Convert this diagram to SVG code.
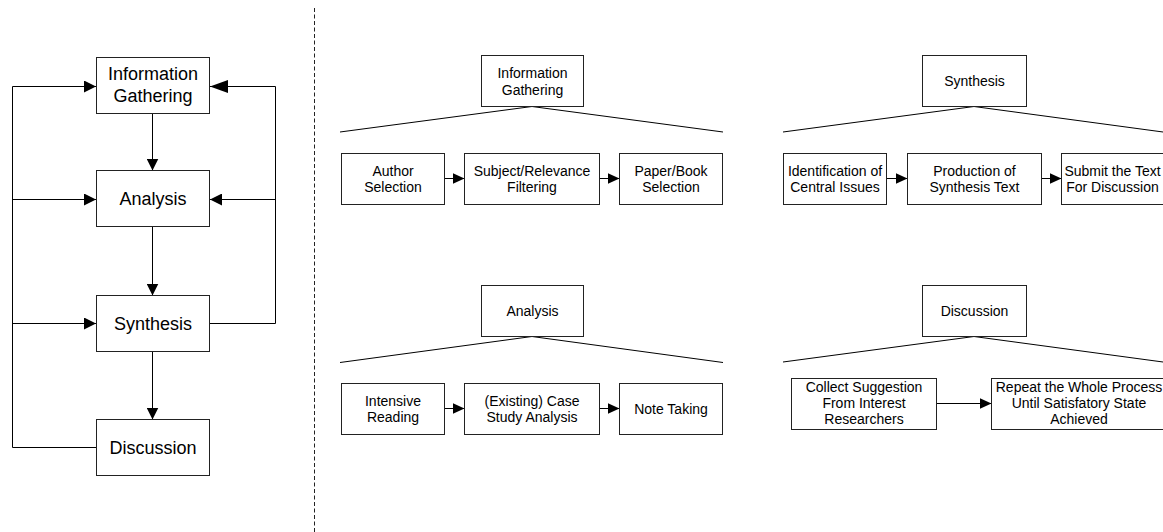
<svg xmlns="http://www.w3.org/2000/svg" width="1163" height="532" viewBox="0 0 1163 532">
<style>
.box{fill:#fff;stroke:#222;stroke-width:1}
.ln{fill:none;stroke:#000;stroke-width:1}
.big{font-family:"Liberation Sans",Arial,sans-serif;font-size:18px;fill:#000;text-anchor:middle}
.sm{font-family:"Liberation Sans",Arial,sans-serif;font-size:14px;fill:#000;text-anchor:middle}
</style>
<defs>
<marker id="arr" markerUnits="userSpaceOnUse" viewBox="0 0 12 12" refX="12" refY="6" markerWidth="12" markerHeight="12" orient="auto">
<path d="M0,0 L12,6 L0,12 z" fill="#000"/>
</marker>
<marker id="arrS" markerUnits="userSpaceOnUse" viewBox="0 0 12 11" refX="12" refY="5.5" markerWidth="12" markerHeight="11" orient="auto">
<path d="M0,0 L12,5.5 L0,11 z" fill="#000"/>
</marker>
<marker id="arrB" markerUnits="userSpaceOnUse" viewBox="0 0 18 13" refX="18" refY="6.5" markerWidth="18" markerHeight="13" orient="auto">
<path d="M0,0 L18,6.5 L0,13 z" fill="#000"/>
</marker>
</defs>
<rect width="1163" height="532" fill="#fff"/>
<line x1="314.5" y1="8" x2="314.5" y2="532" stroke="#222" stroke-width="1" stroke-dasharray="4 2.5"/>
<g id="connectors">
<line class="ln" x1="152.5" y1="113.5" x2="152.5" y2="170.5" marker-end="url(#arr)"/>
<line class="ln" x1="152.5" y1="226.5" x2="152.5" y2="295.5" marker-end="url(#arr)"/>
<line class="ln" x1="152.5" y1="351.5" x2="152.5" y2="419.5" marker-end="url(#arr)"/>
<polyline class="ln" stroke-width="1.4" points="96,447.5 12.5,447.5 12.5,86.5 96,86.5" marker-end="url(#arr)"/>
<line class="ln" x1="12.5" y1="199.5" x2="96" y2="199.5" marker-end="url(#arr)"/>
<line class="ln" x1="12.5" y1="323.5" x2="96" y2="323.5" marker-end="url(#arr)"/>
<polyline class="ln" points="209.5,323.5 275.5,323.5 275.5,86.5 210,86.5" marker-end="url(#arrB)"/>
<line class="ln" x1="275.5" y1="199.5" x2="210" y2="199.5" marker-end="url(#arr)"/>
<polyline class="ln" points="340,132 532,106.5 723,132"/>
<polyline class="ln" points="783,132 974,106.5 1163,132"/>
<polyline class="ln" points="340,362.5 532,336.5 723,362.5"/>
<polyline class="ln" points="783,362 974,336.5 1163,362"/>
<line class="ln" x1="444" y1="178.5" x2="464.5" y2="178.5" marker-end="url(#arrS)"/>
<line class="ln" x1="599" y1="178.5" x2="619.5" y2="178.5" marker-end="url(#arrS)"/>
<line class="ln" x1="886" y1="178.5" x2="907.5" y2="178.5" marker-end="url(#arrS)"/>
<line class="ln" x1="1041" y1="178.5" x2="1061.5" y2="178.5" marker-end="url(#arrS)"/>
<line class="ln" x1="444" y1="408.5" x2="464.5" y2="408.5" marker-end="url(#arrS)"/>
<line class="ln" x1="599" y1="408.5" x2="619.5" y2="408.5" marker-end="url(#arrS)"/>
<line class="ln" x1="936" y1="403.5" x2="991.5" y2="403.5" marker-end="url(#arrS)"/>
</g>
<g id="main-ig"><rect class="box" x="96.5" y="57.5" width="113" height="56"/><text class="big" x="153" y="80">Information</text><text class="big" x="153" y="102">Gathering</text></g>
<g id="main-analysis"><rect class="box" x="96.5" y="170.5" width="113" height="56"/><text class="big" x="153" y="205">Analysis</text></g>
<g id="main-synthesis"><rect class="box" x="96.5" y="295.5" width="113" height="56"/><text class="big" x="153" y="330">Synthesis</text></g>
<g id="main-discussion"><rect class="box" x="96.5" y="419.5" width="113" height="56"/><text class="big" x="153" y="454">Discussion</text></g>

<g id="ig-head"><rect class="box" x="481.5" y="55.5" width="102" height="51"/><text class="sm" x="532.5" y="77.5">Information</text><text class="sm" x="532.5" y="94.5">Gathering</text></g>
<g id="ig-1"><rect class="box" x="341.5" y="153.5" width="103" height="51"/><text class="sm" x="393" y="175.5">Author</text><text class="sm" x="393" y="191.5">Selection</text></g>
<g id="ig-2"><rect class="box" x="464.5" y="153.5" width="135" height="51"/><text class="sm" x="532" y="175.5">Subject/Relevance</text><text class="sm" x="532" y="191.5">Filtering</text></g>
<g id="ig-3"><rect class="box" x="619.5" y="153.5" width="103" height="51"/><text class="sm" x="671" y="175.5">Paper/Book</text><text class="sm" x="671" y="191.5">Selection</text></g>

<g id="syn-head"><rect class="box" x="922.5" y="55.5" width="104" height="51"/><text class="sm" x="974.5" y="86">Synthesis</text></g>
<g id="syn-1"><rect class="box" x="783.5" y="153.5" width="103" height="51"/><text class="sm" x="835" y="175.5">Identification of</text><text class="sm" x="835" y="191.5">Central Issues</text></g>
<g id="syn-2"><rect class="box" x="907.5" y="153.5" width="134" height="51"/><text class="sm" x="974.5" y="175.5">Production of</text><text class="sm" x="974.5" y="191.5">Synthesis Text</text></g>
<g id="syn-3"><rect class="box" x="1061.5" y="153.5" width="104" height="51"/><text class="sm" x="1112.5" y="175.5">Submit the Text</text><text class="sm" x="1112.5" y="191.5">For Discussion</text></g>

<g id="an-head"><rect class="box" x="481.5" y="285.5" width="102" height="51"/><text class="sm" x="532.5" y="316">Analysis</text></g>
<g id="an-1"><rect class="box" x="341.5" y="383.5" width="103" height="51"/><text class="sm" x="393" y="405.5">Intensive</text><text class="sm" x="393" y="421.5">Reading</text></g>
<g id="an-2"><rect class="box" x="464.5" y="383.5" width="135" height="51"/><text class="sm" x="532" y="405.5">(Existing) Case</text><text class="sm" x="532" y="421.5">Study Analysis</text></g>
<g id="an-3"><rect class="box" x="619.5" y="383.5" width="103" height="51"/><text class="sm" x="671" y="413.5">Note Taking</text></g>

<g id="dis-head"><rect class="box" x="922.5" y="285.5" width="104" height="51"/><text class="sm" x="974.5" y="316">Discussion</text></g>
<g id="dis-1"><rect class="box" x="791.5" y="378.5" width="145" height="51"/><text class="sm" x="864" y="391.5">Collect Suggestion</text><text class="sm" x="864" y="407.5">From Interest</text><text class="sm" x="864" y="423.5">Researchers</text></g>
<g id="dis-2"><rect class="box" x="991.5" y="378.5" width="176" height="51"/><text class="sm" x="1079" y="391.5">Repeat the Whole Process</text><text class="sm" x="1079" y="407.5">Until Satisfatory State</text><text class="sm" x="1079" y="423.5">Achieved</text></g>
</svg>
